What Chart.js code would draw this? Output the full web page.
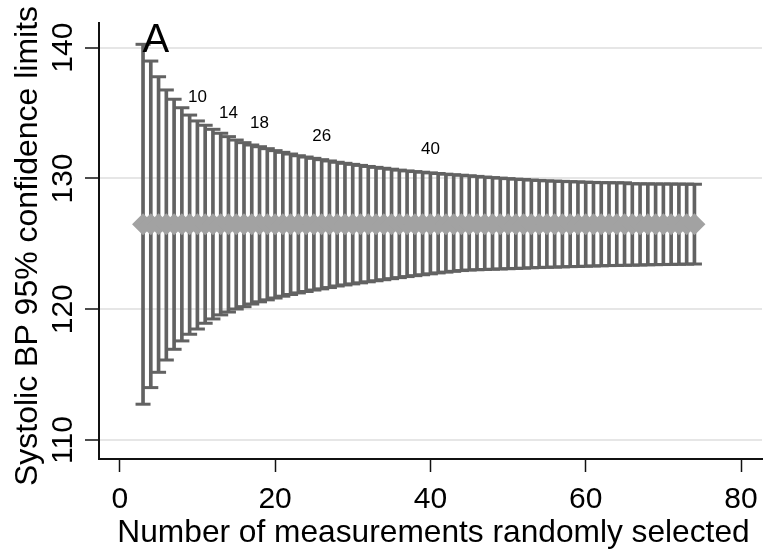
<!DOCTYPE html>
<html>
<head>
<meta charset="utf-8">
<script src="https://cdn.jsdelivr.net/npm/chart.js@4/dist/chart.umd.min.js"></script>
<style>
  html, body { margin: 0; padding: 0; background: #fff; }
  #wrap { width: 773px; height: 551px; }
</style>
</head>
<body>
<div id="wrap"><canvas id="chart" width="773" height="551"></canvas></div>
<script>
// sample sizes, 95% limits and mean
const sampleN = [
  3, 4, 5, 6, 7, 8, 9,
  10, 11, 12, 13, 14, 15, 16, 17, 18, 19,
  20, 21, 22, 23, 24, 25, 26, 27, 28, 29,
  30, 31, 32, 33, 34, 35, 36, 37, 38, 39,
  40, 41, 42, 43, 44, 45, 46, 47, 48, 49,
  50, 51, 52, 53, 54, 55, 56, 57, 58, 59,
  60, 61, 62, 63, 64, 65, 66, 67, 68, 69,
  70, 71, 72, 73, 74
];
const upperLimit = [
  140.26, 138.98, 137.78, 136.77, 136.06, 135.41, 134.85,
  134.40, 134.07, 133.76, 133.46, 133.20, 132.94, 132.74, 132.56, 132.43, 132.28,
  132.13, 132.00, 131.87, 131.74, 131.64, 131.54, 131.44, 131.34, 131.24, 131.16,
  131.08, 131.00, 130.92, 130.85, 130.78, 130.71, 130.64, 130.58, 130.53, 130.48,
  130.43, 130.38, 130.33, 130.29, 130.25, 130.21, 130.16, 130.11, 130.07, 130.03,
  129.99, 129.95, 129.92, 129.88, 129.85, 129.82, 129.80, 129.78, 129.76, 129.74,
  129.72, 129.70, 129.68, 129.68, 129.67, 129.67, 129.60, 129.59, 129.59, 129.58,
  129.58, 129.58, 129.57, 129.57, 129.56
];
const lowerLimit = [
  112.74, 114.01, 115.18, 116.12, 116.94, 117.58, 118.09,
  118.49, 118.93, 119.26, 119.57, 119.79, 120.02, 120.20, 120.40, 120.57, 120.72,
  120.86, 121.00, 121.13, 121.25, 121.36, 121.47, 121.56, 121.66, 121.78, 121.86,
  121.94, 122.02, 122.10, 122.18, 122.26, 122.34, 122.42, 122.50, 122.57, 122.64,
  122.71, 122.78, 122.84, 122.90, 122.96, 123.00, 123.02, 123.04, 123.06, 123.08,
  123.10, 123.12, 123.14, 123.17, 123.19, 123.21, 123.22, 123.24, 123.26, 123.27,
  123.29, 123.31, 123.32, 123.34, 123.35, 123.36, 123.37, 123.38, 123.40, 123.41,
  123.42, 123.43, 123.44, 123.45, 123.46
];
const meanBP = [
  126.5, 126.5, 126.5, 126.5, 126.5, 126.5, 126.5,
  126.5, 126.5, 126.5, 126.5, 126.5, 126.5, 126.5, 126.5, 126.5, 126.5,
  126.5, 126.5, 126.5, 126.5, 126.5, 126.5, 126.5, 126.5, 126.5, 126.5,
  126.5, 126.5, 126.5, 126.5, 126.5, 126.5, 126.5, 126.5, 126.5, 126.5,
  126.5, 126.5, 126.5, 126.5, 126.5, 126.5, 126.5, 126.5, 126.5, 126.5,
  126.5, 126.5, 126.5, 126.5, 126.5, 126.5, 126.5, 126.5, 126.5, 126.5,
  126.5, 126.5, 126.5, 126.5, 126.5, 126.5, 126.5, 126.5, 126.5, 126.5,
  126.5, 126.5, 126.5, 126.5, 126.5
];
const labelledN = [10, 14, 18, 26, 40];
const xTicks = [0, 20, 40, 60, 80];
const yTicks = [110, 120, 130, 140];
const panelLabel = 'A';
const xTitle = 'Number of measurements randomly selected';
const yTitle = 'Systolic BP 95% confidence limits';

const FONT = "'Liberation Sans', Arial, sans-serif";
const barGray = '#626262';
const meanGray = '#a2a2a2';

const barData = sampleN.map((n, i) => ({ x: n, y: [lowerLimit[i], upperLimit[i]] }));
const upperPts = sampleN.map((n, i) => ({ x: n, y: upperLimit[i] }));
const lowerPts = sampleN.map((n, i) => ({ x: n, y: lowerLimit[i] }));
const meanPts = sampleN.map((n, i) => ({ x: n, y: meanBP[i] }));

// rotated y tick labels, axis titles, n labels above some bars, panel letter
const textPlugin = {
  id: 'textPlugin',
  afterDraw(chart) {
    const ctx = chart.ctx;
    const xs = chart.scales.x, ys = chart.scales.y;
    ctx.save();
    ctx.fillStyle = '#000';
    ctx.textAlign = 'center';
    ctx.textBaseline = 'alphabetic';

    ctx.font = '30px ' + FONT;
    yTicks.forEach(v => {
      ctx.save();
      ctx.translate(72, ys.getPixelForValue(v));
      ctx.rotate(-Math.PI / 2);
      ctx.fillText(String(v), 0, 0);
      ctx.restore();
    });

    ctx.font = '32px ' + FONT;
    ctx.save();
    ctx.translate(37, (ys.top + ys.bottom) / 2 + 5);
    ctx.rotate(-Math.PI / 2);
    ctx.fillText(yTitle, 0, 0);
    ctx.restore();

    ctx.font = '31.7px ' + FONT;
    ctx.fillText(xTitle, (xs.left + xs.right) / 2 + 3, 542);

    ctx.font = '17px ' + FONT;
    labelledN.forEach(n => {
      const i = sampleN.indexOf(n);
      ctx.fillText(String(n), xs.getPixelForValue(n), ys.getPixelForValue(upperLimit[i]) - 18.5);
    });

    ctx.font = '40px ' + FONT;
    ctx.fillText(panelLabel, xs.getPixelForValue(4.66), ys.getPixelForValue(139.7));
    ctx.restore();
  }
};

new Chart(document.getElementById('chart'), {
  type: 'bar',
  data: {
    datasets: [
      {
        type: 'line', data: meanPts, showLine: false,
        pointStyle: 'rectRot', pointRadius: 11, pointHoverRadius: 11,
        pointBackgroundColor: meanGray, pointBorderWidth: 0, order: 0
      },
      {
        type: 'line', data: upperPts, showLine: false,
        pointStyle: 'line', pointRadius: 7.5, pointHoverRadius: 7.5,
        pointBorderColor: barGray, pointBorderWidth: 3, order: 1
      },
      {
        type: 'line', data: lowerPts, showLine: false,
        pointStyle: 'line', pointRadius: 7.5, pointHoverRadius: 7.5,
        pointBorderColor: barGray, pointBorderWidth: 3, order: 2
      },
      {
        type: 'bar', data: barData, backgroundColor: barGray,
        barThickness: 3, borderWidth: 0, grouped: false, order: 3
      }
    ]
  },
  options: {
    responsive: false,
    animation: false,
    layout: { padding: { top: 23, right: 3, left: 0, bottom: 0 } },
    plugins: { legend: { display: false }, tooltip: { enabled: false } },
    scales: {
      x: {
        type: 'linear', min: -2.67, max: 82.7, offset: false,
        afterBuildTicks: s => { s.ticks = xTicks.map(v => ({ value: v })); },
        afterFit: s => { s.height = 92; },
        grid: { drawOnChartArea: false, offset: false, tickLength: 13, tickColor: '#111', tickWidth: 1.5 },
        border: { color: '#111', width: 2 },
        ticks: { color: '#000', font: { family: FONT, size: 30 }, padding: 10, maxRotation: 0 },
        title: { display: false }
      },
      y: {
        type: 'linear', min: 108.55, max: 141.89,
        afterBuildTicks: s => { s.ticks = yTicks.map(v => ({ value: v })); },
        afterFit: s => { s.width = 99; },
        grid: { color: '#e6e6e6', lineWidth: 2, tickLength: 14, tickColor: '#111', tickWidth: 1.5 },
        border: { color: '#111', width: 2 },
        ticks: { display: false },
        title: { display: false }
      }
    }
  },
  plugins: [textPlugin]
});
</script>
</body>
</html>
